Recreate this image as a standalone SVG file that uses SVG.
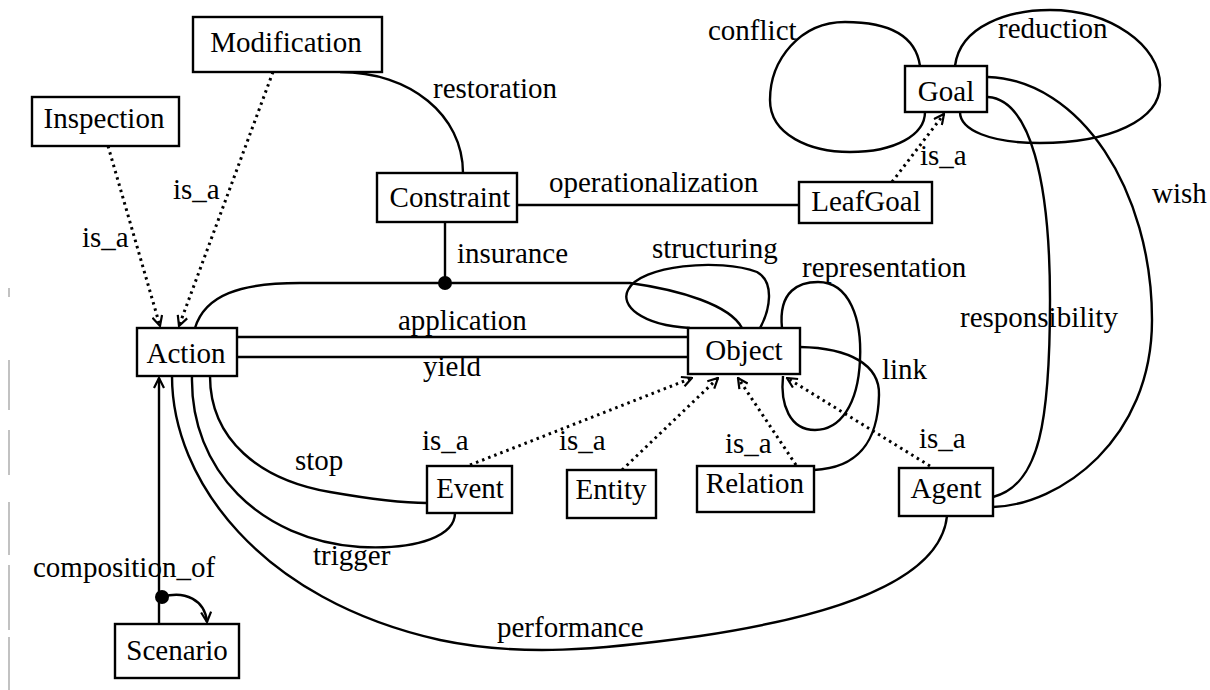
<svg xmlns="http://www.w3.org/2000/svg" width="1210" height="690" viewBox="0 0 1210 690">
<defs>
<style>
.box{fill:#fff;stroke:#000;stroke-width:2.4}
.t{font-family:"Liberation Serif","Times New Roman",serif;font-size:29px;fill:#000}
.c{text-anchor:middle}
.ln{fill:none;stroke:#000;stroke-width:2.4}
.dt{fill:none;stroke:#000;stroke-width:3;stroke-dasharray:2.5 4}
.art{stroke:#999;stroke-width:1.2}
</style>
<marker id="v" viewBox="0 0 12 12" refX="11" refY="6" markerWidth="12" markerHeight="12" markerUnits="userSpaceOnUse" orient="auto">
<path d="M1,1 L11,6 L1,11" fill="none" stroke="#000" stroke-width="2.2"/>
</marker>
</defs>
<rect width="1210" height="690" fill="#fff"/>
<g id="artifacts">
<line class="art" x1="9" y1="288" x2="9" y2="297"/>
<line class="art" x1="9" y1="360" x2="9" y2="410"/>
<line class="art" x1="9" y1="430" x2="9" y2="475"/>
<line class="art" x1="9" y1="502" x2="9" y2="555"/>
<line class="art" x1="9" y1="565" x2="9" y2="630"/>
<line class="art" x1="9" y1="637" x2="9" y2="690"/>
</g>
<g id="connectors">
<path class="ln" d="M340,72 C410,72 463,115 463,173"/>
<text class="t" x="433" y="98">restoration</text>
<path class="dt" d="M108,146 L160,326" marker-end="url(#v)"/>
<text class="t" x="82" y="247">is_a</text>
<path class="dt" d="M273,72 L179,326" marker-end="url(#v)"/>
<text class="t" x="173" y="199">is_a</text>
<path class="ln" d="M517,205 L799,205"/>
<text class="t" x="549" y="192">operationalization</text>
<path class="dt" d="M892,182 L944,114" marker-end="url(#v)"/>
<text class="t" x="920" y="165">is_a</text>
<path class="ln" d="M920,66 C915,30 880,22 845,22 C800,22 770,60 770,100 C770,135 810,152 850,152 C895,152 925,135 925,112"/>
<text class="t" x="708" y="40">conflict</text>
<path class="ln" d="M955,66 C960,25 1010,10 1050,10 C1110,10 1160,45 1160,85 C1160,120 1110,143 1040,143 C990,143 960,130 960,112"/>
<text class="t" x="998" y="38">reduction</text>
<path class="ln" d="M988,77 C1080,80 1152,190 1152,320 C1152,440 1060,505 993,507"/>
<text class="t" x="1152" y="203">wish</text>
<path class="ln" d="M988,97 C1030,100 1050,180 1050,300 C1050,420 1040,485 993,497"/>
<text class="t" x="960" y="327">responsibility</text>
<path class="ln" d="M445,222 L445,283"/>
<path class="ln" d="M195,328 C205,295 240,283 300,283 L630,283 C680,290 730,305 742,328"/>
<circle cx="445" cy="283" r="7" fill="#000"/>
<text class="t" x="457" y="263">insurance</text>
<path class="ln" d="M690,328 C640,325 620,305 628,290 C640,265 720,258 757,272 C775,282 770,310 760,328"/>
<text class="t" x="652" y="258">structuring</text>
<path class="ln" d="M782,328 C778,290 800,282 818,282 C850,282 862,320 860,360 C858,405 840,430 815,430 C790,430 780,405 783,376"/>
<text class="t" x="802" y="277">representation</text>
<path class="ln" d="M800,347 C850,348 880,365 879,395 C878,440 860,468 814,470"/>
<text class="t" x="882" y="379">link</text>
<path class="ln" d="M237,337 L688,337"/>
<text class="t" x="398" y="330">application</text>
<path class="ln" d="M237,357 L688,357"/>
<text class="t" x="423" y="376">yield</text>
<path class="dt" d="M470,465 L692,378" marker-end="url(#v)"/>
<text class="t" x="422" y="450">is_a</text>
<path class="dt" d="M622,470 L718,378" marker-end="url(#v)"/>
<text class="t" x="559" y="450">is_a</text>
<path class="dt" d="M796,465 L738,378" marker-end="url(#v)"/>
<text class="t" x="725" y="453">is_a</text>
<path class="dt" d="M930,466 L787,378" marker-end="url(#v)"/>
<text class="t" x="919" y="448">is_a</text>
<path class="ln" d="M210,376 C210,440 260,480 330,492 C370,499 400,503 427,503"/>
<text class="t" x="295" y="470">stop</text>
<path class="ln" d="M192,376 C190,470 260,540 360,547 C420,550 455,535 455,513"/>
<text class="t" x="313" y="565">trigger</text>
<path class="ln" d="M172,376 C172,480 260,600 440,640 C520,657 600,650 700,636 C820,618 940,585 947,516"/>
<text class="t" x="497" y="637">performance</text>
<path class="ln" d="M159,624 L159,378" marker-end="url(#v)"/>
<path class="ln" d="M162,597 C185,590 205,600 207,622" marker-end="url(#v)"/>
<circle cx="162" cy="597" r="7" fill="#000"/>
<text class="t" x="33" y="577">composition_of</text>
</g>
<g id="Modification"><rect class="box" x="193" y="17" width="189" height="55"/><text class="t c" x="286" y="52">Modification</text></g>
<g id="Inspection"><rect class="box" x="32" y="97" width="147" height="49"/><text class="t c" x="104" y="128">Inspection</text></g>
<g id="Constraint"><rect class="box" x="377" y="173" width="140" height="49"/><text class="t c" x="450" y="207">Constraint</text></g>
<g id="LeafGoal"><rect class="box" x="799" y="182" width="133" height="41"/><text class="t c" x="866" y="211">LeafGoal</text></g>
<g id="Goal"><rect class="box" x="905" y="66" width="82" height="46"/><text class="t c" x="946" y="101">Goal</text></g>
<g id="Action"><rect class="box" x="137" y="328" width="100" height="48"/><text class="t c" x="186" y="363">Action</text></g>
<g id="Object"><rect class="box" x="688" y="328" width="112" height="46"/><text class="t c" x="744" y="360">Object</text></g>
<g id="Event"><rect class="box" x="427" y="466" width="85" height="47"/><text class="t c" x="470" y="498">Event</text></g>
<g id="Entity"><rect class="box" x="567" y="470" width="89" height="48"/><text class="t c" x="611" y="499">Entity</text></g>
<g id="Relation"><rect class="box" x="697" y="466" width="117" height="46"/><text class="t c" x="755" y="493">Relation</text></g>
<g id="Agent"><rect class="box" x="899" y="468" width="94" height="48"/><text class="t c" x="946" y="498">Agent</text></g>
<g id="Scenario"><rect class="box" x="115" y="624" width="124" height="54"/><text class="t c" x="177" y="660">Scenario</text></g>
</svg>
